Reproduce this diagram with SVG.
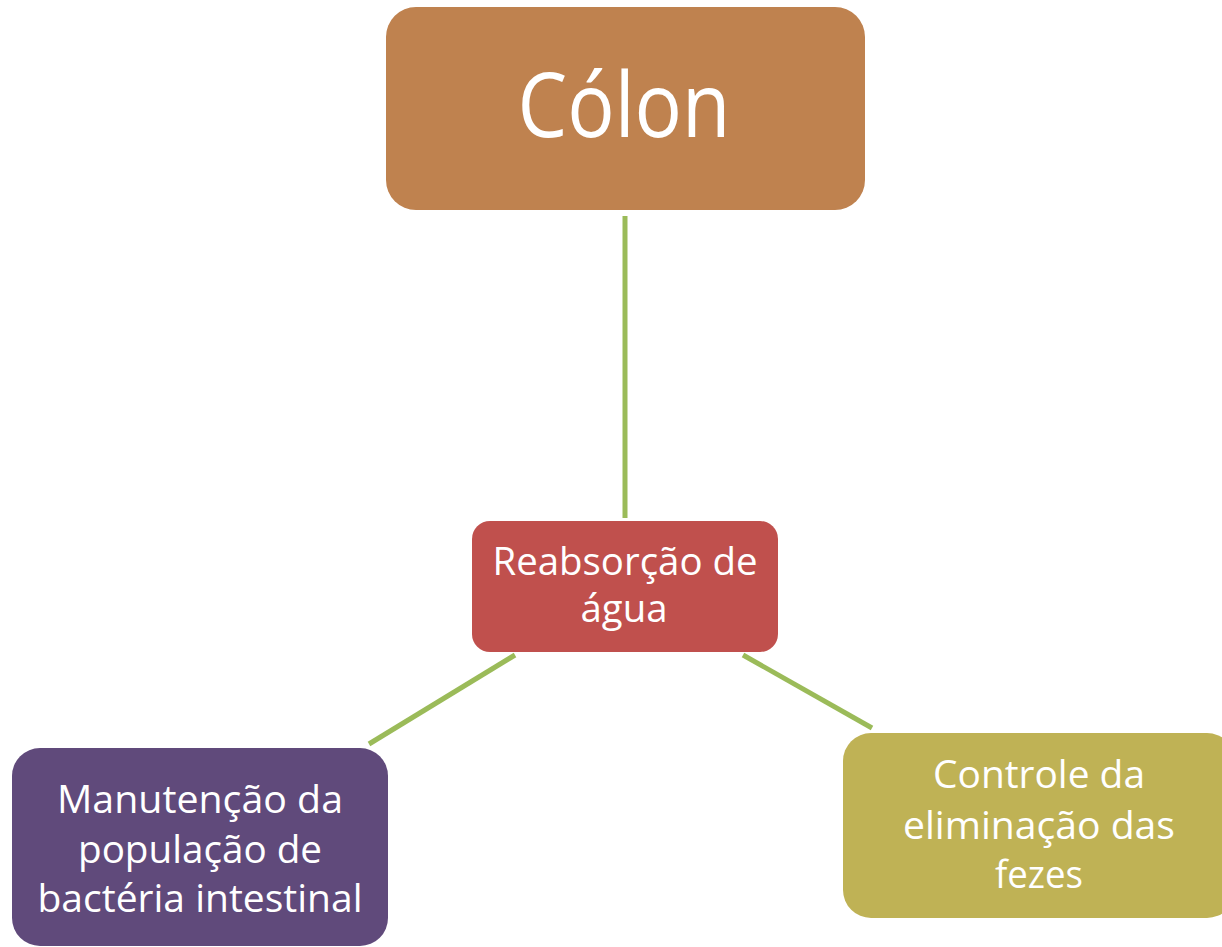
<svg xmlns="http://www.w3.org/2000/svg" width="1222" height="947" viewBox="0 0 1222 947">
<style>
.t{font-family:"Open Sans","Liberation Sans",sans-serif;fill:#FFFFFF;text-anchor:middle}
.c{stroke:#9BBB59;stroke-width:5;fill:none}
</style>
<rect width="1222" height="947" fill="#FFFFFF"/>
<g id="connectors">
<line class="c" x1="625" y1="216" x2="625" y2="518"/>
<line class="c" x1="515" y1="655" x2="369" y2="744"/>
<line class="c" x1="743" y1="655" x2="872" y2="728"/>
</g>
<g id="colon">
<rect x="386" y="7" width="479" height="203" rx="30" fill="#BF824F"/>
<text class="t" x="624" y="137" font-size="90" textLength="213" lengthAdjust="spacingAndGlyphs">Cólon</text>
</g>
<g id="reabsorcao">
<rect x="472" y="521" width="306" height="131" rx="18" fill="#C0504D"/>
<text class="t" font-size="39"><tspan x="625" y="575" textLength="265" lengthAdjust="spacingAndGlyphs">Reabsorção de</tspan><tspan x="624" y="622" textLength="87" lengthAdjust="spacingAndGlyphs">água</tspan></text>
</g>
<g id="manutencao">
<rect x="12" y="748" width="376" height="198" rx="28" fill="#604A7B"/>
<text class="t" font-size="38"><tspan x="200" y="813" textLength="286" lengthAdjust="spacingAndGlyphs">Manutenção da</tspan><tspan x="200" y="863" textLength="244" lengthAdjust="spacingAndGlyphs">população de</tspan><tspan x="200" y="912" textLength="325" lengthAdjust="spacingAndGlyphs">bactéria intestinal</tspan></text>
</g>
<g id="controle">
<rect x="843" y="733" width="392" height="185" rx="28" fill="#BFB255"/>
<text class="t" font-size="38"><tspan x="1039" y="788" textLength="212" lengthAdjust="spacingAndGlyphs">Controle da</tspan><tspan x="1039" y="839" textLength="272" lengthAdjust="spacingAndGlyphs">eliminação das</tspan><tspan x="1039" y="888" textLength="88" lengthAdjust="spacingAndGlyphs">fezes</tspan></text>
</g>
</svg>
